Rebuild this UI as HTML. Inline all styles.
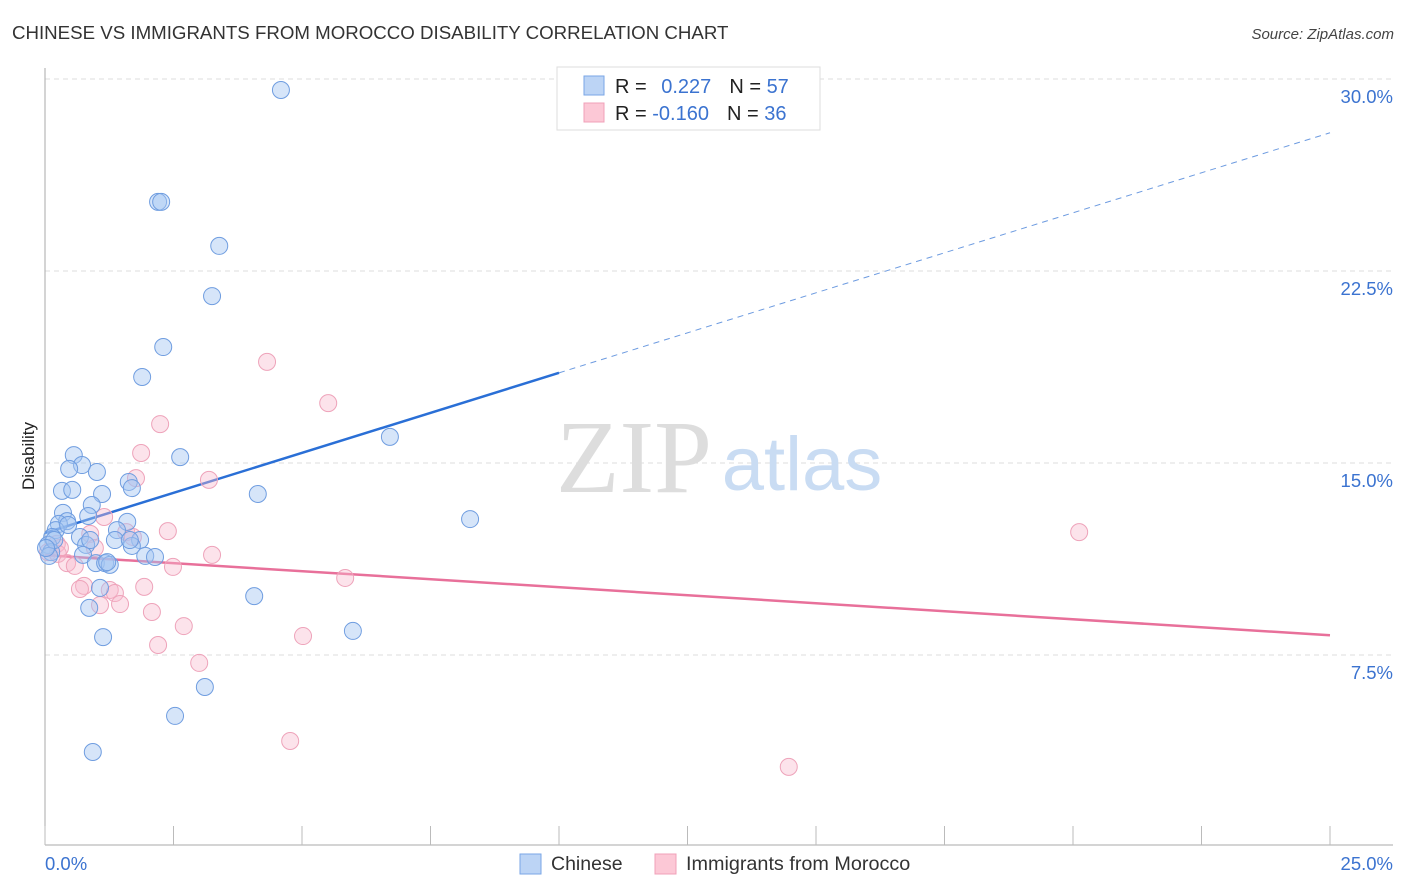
<!DOCTYPE html>
<html><head><meta charset="utf-8"><style>
body{margin:0;background:#fff;font-family:"Liberation Sans",sans-serif}
</style></head><body>
<svg id="chart" width="1406" height="892" xmlns="http://www.w3.org/2000/svg" style="display:block">
<text x="12" y="39" font-size="18.7" fill="#333">CHINESE VS IMMIGRANTS FROM MOROCCO DISABILITY CORRELATION CHART</text>
<text x="1394" y="39" font-size="15" fill="#444" text-anchor="end" font-style="italic">Source: ZipAtlas.com</text>
<text transform="translate(34,456) rotate(-90)" font-size="17" fill="#222" text-anchor="middle">Disability</text>
<g id="grid"></g>
<g>
<text x="634" y="492" font-size="104" font-family="Liberation Serif,serif" fill="#ddd" text-anchor="middle">ZIP</text>
<text x="802" y="490" font-size="76" fill="#c9dcf3" text-anchor="middle">atlas</text>
</g>
<g id="axes"></g>
<g id="lines"></g>
<g id="pts"></g>
<g>
<rect x="557" y="67" width="263" height="63" fill="#fff" stroke="#ddd"/>
<rect x="584" y="76" width="20" height="19" fill="#bcd4f5" stroke="#7aa6e6"/>
<rect x="584" y="103" width="20" height="19" fill="#fcc8d6" stroke="#f0a0b8"/>
<text x="615" y="93" font-size="20" fill="#222">R = <tspan fill="#3b73d0" dx="9">0.227</tspan><tspan fill="#222" dx="18">N = </tspan><tspan fill="#3b73d0">57</tspan></text>
<text x="615" y="120" font-size="20" fill="#222">R = <tspan fill="#3b73d0">-0.160</tspan><tspan fill="#222" dx="18">N = </tspan><tspan fill="#3b73d0">36</tspan></text>
</g>
<g>
<rect x="520" y="854" width="21" height="20" fill="#bcd4f5" stroke="#7aa6e6"/>
<text x="551" y="870" font-size="19.5" fill="#333">Chinese</text>
<rect x="655" y="854" width="21" height="20" fill="#fcc8d6" stroke="#f0a0b8"/>
<text x="686" y="870" font-size="19.8" fill="#333">Immigrants from Morocco</text>
</g>
</svg>
<script>
const yTicks=[7.5,15,22.5,30];
const yTickLabels=["7.5%","15.0%","22.5%","30.0%"];
const xTickVals=[0,2.5,5,7.5,10,12.5,15,17.5,20,22.5,25];
const xEndLabels=["0.0%","25.0%"];
const chineseX=[4.59,2.20,2.26,3.39,3.25,2.30,1.89,6.71,2.63,0.56,0.72,1.01,0.47,1.63,1.69,0.33,0.53,1.11,4.14,0.91,0.35,0.84,0.43,0.27,1.60,0.21,1.40,0.14,0.68,1.36,1.85,0.06,0.80,1.69,0.12,0.74,1.95,2.14,0.99,1.17,1.26,1.21,8.27,1.07,4.07,0.86,5.99,1.13,3.11,2.53,0.93,0.08,0.18,0.02,1.65,0.45,0.88];
const chineseY=[29.57,25.20,25.20,23.48,21.52,19.53,18.36,16.02,15.23,15.31,14.92,14.65,14.77,14.26,14.02,13.91,13.95,13.79,13.79,13.36,13.05,12.93,12.73,12.62,12.70,12.38,12.38,12.11,12.11,11.99,11.99,11.80,11.80,11.76,11.52,11.41,11.37,11.33,11.09,11.09,11.02,11.13,12.81,10.12,9.80,9.34,8.44,8.20,6.25,5.12,3.71,11.37,11.99,11.68,11.99,12.58,11.99];
const moroccoX=[4.32,5.51,2.24,1.87,1.77,3.19,1.15,2.39,20.12,1.58,1.71,0.88,0.23,0.97,0.06,0.25,3.25,0.43,0.58,2.49,5.84,0.76,0.68,1.26,1.36,1.93,1.07,1.46,2.08,2.70,5.02,2.20,3.00,4.77,14.47,0.29];
const moroccoY=[18.95,17.34,16.52,15.39,14.41,14.34,12.89,12.34,12.30,12.30,12.11,12.23,11.84,11.68,11.52,11.45,11.41,11.09,10.98,10.94,10.51,10.20,10.08,10.04,9.92,10.16,9.45,9.49,9.18,8.63,8.24,7.89,7.19,4.14,3.13,11.68];
const chineseTrend=[12.27,27.9];
const moroccoTrend=[11.4,8.27];
const solidEnd=10;
const NS="http://www.w3.org/2000/svg";
const X=v=>45+v*51.4, Y=v=>655-(v-7.5)*25.6;
function mk(tag,attrs,parent){const e=document.createElementNS(NS,tag);for(const k in attrs)e.setAttribute(k,attrs[k]);document.getElementById(parent).appendChild(e);return e;}
yTicks.forEach((t,i)=>{
  const l=mk('line',{x1:45,x2:1393,y1:Y(t),y2:Y(t),stroke:'#ddd','stroke-dasharray':'5,4'},'grid');
  
  
  const tx=mk('text',{x:1393,y:Y(t)+24,'font-size':18.5,fill:'#3b73d0','text-anchor':'end'},'grid');
  
  
  tx.textContent=yTickLabels[i];
});
mk('line',{x1:45,x2:45,y1:68,y2:845,stroke:'#aaa'},'axes');
mk('line',{x1:45,x2:1393,y1:845,y2:845,stroke:'#aaa'},'axes');
xTickVals.forEach(v=>{
  const l=mk('line',{x1:X(v),x2:X(v),y1:826,y2:845,stroke:'#bbb'},'axes');
  
  
});
const xl0=mk('text',{x:45,y:870,'font-size':18.5,fill:'#3b73d0'},'axes');


xl0.textContent=xEndLabels[0];
const xl1=mk('text',{x:1393,y:870,'font-size':18.5,fill:'#3b73d0','text-anchor':'end'},'axes');


xl1.textContent=xEndLabels[1];
const ty=(tr,v)=>tr[0]+(tr[1]-tr[0])*v/25;
function pts(xs,ys,fill,stroke,name){xs.forEach((x,i)=>{
  const c=mk('circle',{cx:X(x),cy:Y(ys[i]),r:8.5,fill:fill,stroke:stroke,'stroke-width':1},'pts');
  
  
});}
pts(moroccoX,moroccoY,'rgba(248,185,205,0.4)','#eea3ba','morocco-point');
pts(chineseX,chineseY,'rgba(165,198,242,0.45)','#6f9de0','chinese-point');
const b1=mk('line',{x1:X(0),y1:Y(ty(chineseTrend,0)),x2:X(solidEnd),y2:Y(ty(chineseTrend,solidEnd)),stroke:'#2a6fd6','stroke-width':2.5},'lines');


const b2=mk('line',{x1:X(solidEnd),y1:Y(ty(chineseTrend,solidEnd)),x2:X(25),y2:Y(ty(chineseTrend,25)),stroke:'#6d9be0','stroke-width':1,'stroke-dasharray':'6,5'},'lines');


const p1=mk('line',{x1:X(0),y1:Y(ty(moroccoTrend,0)),x2:X(25),y2:Y(ty(moroccoTrend,25)),stroke:'#e8709a','stroke-width':2.5},'lines');


</script>
</body></html>
